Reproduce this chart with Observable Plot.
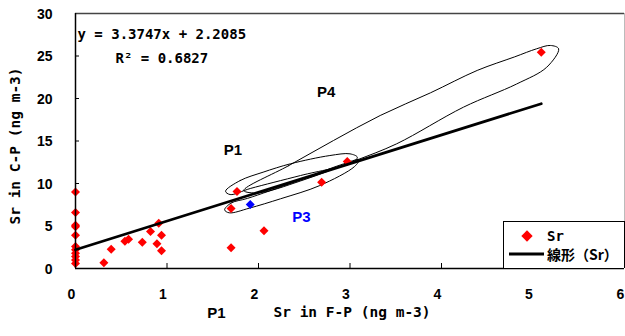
<!DOCTYPE html>
<html>
<head>
<meta charset="utf-8">
<script src="https://cdn.jsdelivr.net/npm/d3@7"></script>
<script src="https://cdn.jsdelivr.net/npm/@observablehq/plot@0.6"></script>
<style>
  html, body { margin: 0; padding: 0; background: #fff; }
  #wrap { position: relative; width: 625px; height: 336px; }
  #legend {
    position: absolute; left: 503px; top: 221px; width: 120px; height: 46px;
    border: 1px solid #000; border-bottom: none; background: #fff;
    font: bold 14px "DejaVu Sans Mono", "Noto Sans CJK JP", monospace;
  }
  #legend .row { position: absolute; left: 0; height: 18px; display: flex; align-items: center; }
  #legend svg { display: block; flex: none; }
</style>
</head>
<body>
<div id="wrap">
  <div id="chart"></div>
  <div id="legend">
    <div class="row" style="top:5px;">
      <svg width="43" height="18"><rect x="19" y="5" width="8" height="8" fill="#ff0000" transform="rotate(45 23 9)"></rect></svg>
      <span>Sr</span>
    </div>
    <div class="row" style="top:23px;">
      <svg width="43" height="18"><line x1="5" x2="40" y1="9" y2="9" stroke="#000" stroke-width="3"></line></svg>
      <span style="font-family:'Noto Sans CJK JP', sans-serif; font-weight:700;">線形（Sr）</span>
    </div>
  </div>
</div>
<script>
// Sr concentration: fine particles (F-P) vs coarse particles (C-P), ng m-3
const srFP = [0, 0, 0, 0, 0, 0, 0, 0, 0, 0, 0,
  0.31, 0.39, 0.54, 0.58, 0.73, 0.82, 0.91, 0.94, 0.89, 0.94,
  1.70, 1.70, 1.765, 2.06, 2.69, 2.97, 5.09];
const srCP = [9.0, 6.6, 5.1, 4.9, 3.9, 2.6, 2.2, 1.8, 1.4, 1.0, 0.6,
  0.67, 2.27, 3.2, 3.45, 3.1, 4.35, 5.33, 3.92, 2.9, 2.1,
  2.43, 7.06, 9.06, 4.43, 10.15, 12.6, 25.45];

// sample marked in blue (P3 group)
const p3FP = [1.91];
const p3CP = [7.53];

// linear trend (Sr)
const slope = 3.3747;
const intercept = 2.2085;
const rSquared = 0.6827;

// hand-drawn group outlines [F-P, C-P]
const loopP1 = [[1.64, 9.09], [1.80, 10.35], [2.05, 11.33], [2.35, 12.32], [2.78, 13.29],
  [3.00, 13.49], [3.08, 13.09], [3.03, 12.5], [2.46, 10.94], [1.91, 9.41], [1.69, 8.7]];
const loopP3 = [[1.63, 6.9], [1.70, 7.7], [1.88, 8.25], [2.4, 10.2], [2.9, 12.2], [3.1, 12.8],
  [3.05, 12.0], [2.67, 9.76], [2.24, 8.2], [1.90, 7.1], [1.68, 6.55]];
const loopP4 = [[1.84, 9.18], [2.33, 12.1], [2.82, 15.06], [3.33, 18.0], [3.88, 20.67],
  [4.39, 23.3], [4.8, 24.9], [5.04, 25.85], [5.19, 26.24], [5.28, 25.85], [5.15, 23.68],
  [4.82, 21.7], [4.24, 18.98], [3.51, 14.67], [3.06, 12.7], [2.46, 10.3], [2.0, 8.9]];

// group labels
const groupLabels = [
  {x: 1.72, y: 13.9, text: "P1", color: "#000"},
  {x: 2.74, y: 20.7, text: "P4", color: "#000"},
  {x: 2.47, y: 6.0, text: "P3", color: "#0000ff"},
  {x: 1.54, y: -5.25, text: "P1", color: "#000"}
];

const xTicks = [0, 1, 2, 3, 4, 5, 6];
const yTicks = [0, 5, 10, 15, 20, 25, 30];

const points = srFP.map((x, i) => ({x, y: srCP[i]}));
const highlight = p3FP.map((x, i) => ({x, y: p3CP[i]}));
const xMax = d3.max(srFP);
const trend = [0, xMax].map(x => ({x, y: slope * x + intercept}));

const mono = "'DejaVu Sans Mono', 'Noto Sans CJK JP', monospace";
const sans = "'Liberation Sans', Arial, sans-serif";

const W = 625, H = 336, mL = 75, mR = 1, mT = 13, mB = 68;
const innerW = W - mL - mR, innerH = H - mT - mB;

const chart = Plot.plot({
  width: W, height: H,
  marginLeft: mL, marginRight: mR, marginTop: mT, marginBottom: mB,
  x: {domain: [0, 6]},
  y: {domain: [0, 30]},
  style: {background: "#fff", fontFamily: sans, fontWeight: "bold", color: "#000"},
  marks: [
    // frame
    Plot.ruleY([30], {stroke: "#444", strokeWidth: 1.5}),
    Plot.ruleX([6], {stroke: "#bbb", strokeWidth: 1}),
    // tick marks pointing into the plot
    Plot.tickX(xTicks.slice(1, 6), {x: d => d, insetTop: innerH - 5, stroke: "#000", strokeWidth: 1}),
    Plot.tickY(yTicks.slice(1, 6), {y: d => d, insetRight: innerW - 4, stroke: "#000", strokeWidth: 1}),
    Plot.axisX({ticks: xTicks, tickFormat: d3.format("d"), tickSize: 0, tickPadding: 21, dx: -4, fontSize: 14, fontWeight: "bold", fontFamily: sans, label: null}),
    Plot.axisY({ticks: yTicks, tickFormat: d3.format("d"), tickSize: 0, tickPadding: 23, dy: 1, fontSize: 14, fontWeight: "bold", fontFamily: sans, label: null}),
    // group outlines
    Plot.line(loopP1, {x: d => d[0], y: d => d[1], curve: "catmull-rom-closed", stroke: "#000", strokeWidth: 1}),
    Plot.line(loopP3, {x: d => d[0], y: d => d[1], curve: "catmull-rom-closed", stroke: "#000", strokeWidth: 1}),
    Plot.line(loopP4, {x: d => d[0], y: d => d[1], curve: "catmull-rom-closed", stroke: "#000", strokeWidth: 1}),
    // data
    Plot.dot(points, {x: "x", y: "y", symbol: "square", r: 3.6, rotate: 45, fill: "#ff0000", stroke: "none"}),
    Plot.dot(highlight, {x: "x", y: "y", symbol: "square", r: 3.6, rotate: 45, fill: "#0000ff", stroke: "none"}),
    // trend line
    Plot.line(trend, {x: "x", y: "y", stroke: "#000", strokeWidth: 2.75}),
    // axes lines
    Plot.ruleX([0], {stroke: "#000", strokeWidth: 1.5}),
    Plot.ruleY([0], {stroke: "#000", strokeWidth: 1.5}),
    // equation
    Plot.text([`y = ${slope}x + ${intercept}`], {frameAnchor: "top-left", dx: 2, dy: 16, textAnchor: "start", fontFamily: mono, fontSize: 14, fontWeight: "bold", fill: "#000"}),
    Plot.text([`R² = ${rSquared}`], {frameAnchor: "top-left", dx: 40, dy: 40, textAnchor: "start", fontFamily: mono, fontSize: 14, fontWeight: "bold", fill: "#000"}),
    // group labels
    Plot.text(groupLabels, {x: "x", y: "y", text: "text", fill: "color", fontFamily: sans, fontSize: 15, fontWeight: "bold", clip: false}),
    // axis titles
    Plot.text(["Sr in F-P (ng m-3)"], {frameAnchor: "bottom", textAnchor: "middle", dx: 2, dy: 48, fontFamily: mono, fontSize: 14.5, fontWeight: "bold", fill: "#000"}),
    Plot.text(["Sr in C-P (ng m-3)"], {frameAnchor: "left", textAnchor: "middle", rotate: -90, dx: -60, dy: 5, fontFamily: mono, fontSize: 14.5, fontWeight: "bold", fill: "#000"})
  ]
});

document.getElementById("chart").appendChild(chart);
</script>
</body>
</html>
